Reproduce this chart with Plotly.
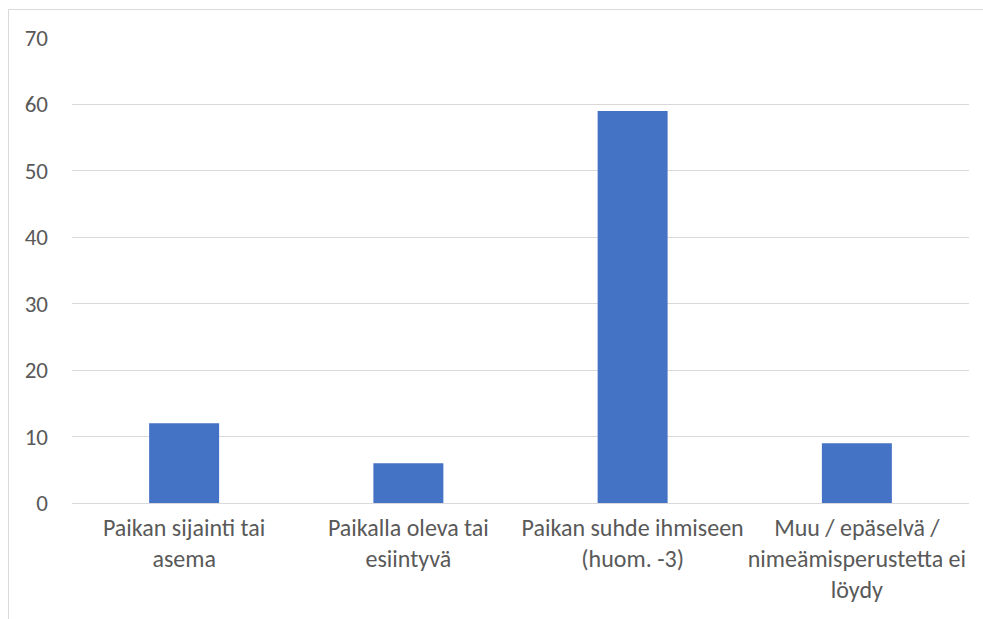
import plotly.graph_objects as go

categories = ["Paikan sijainti tai<br>asema", "Paikalla oleva tai<br>esiintyvä",
              "Paikan suhde ihmiseen<br>(huom. -3)", "Muu / epäselvä /<br>nimeämisperustetta ei<br>löydy"]
values = [12, 6, 59, 9]
y_ticks = [0, 10, 20, 30, 40, 50, 60, 70]

W, H = 983, 619
L, R, T, B = 72, 14, 38, 116
pw, ph = W - L - R, H - T - B

fig = go.Figure(go.Bar(x=categories, y=values, marker=dict(color="#4472C4", line=dict(width=0)),
                       hoverinfo="skip"))

FONT = "Calibri, Carlito, Lato, sans-serif"
fig.update_layout(
    width=W, height=H,
    margin=dict(l=L, r=R, t=T, b=B),
    paper_bgcolor="white", plot_bgcolor="white",
    bargap=0.688,
    showlegend=False,
    font=dict(family=FONT, size=22, color="#595959"),
    xaxis=dict(showgrid=False, showline=False, ticks="", tickangle=0, ticklabelstandoff=8,
               tickfont=dict(size=24, color="#595959")),
    yaxis=dict(range=[0, 70], tickvals=y_ticks, showgrid=True, gridcolor="#D9D9D9", gridwidth=1,
               zeroline=True, zerolinecolor="#D9D9D9", zerolinewidth=1, showline=False,
               ticks="", ticklabelstandoff=23, tickfont=dict(size=23, color="#595959")),
)

x0 = (8.5 - L) / pw
y0 = (H - B - 9.5) / ph
fig.add_shape(type="line", xref="paper", yref="paper", x0=x0, x1=(W + 5 - L) / pw, y0=y0, y1=y0,
              line=dict(color="#D9D9D9", width=1))
fig.add_shape(type="line", xref="paper", yref="paper", x0=x0, x1=x0, y0=y0, y1=-(B + 5) / ph,
              line=dict(color="#D9D9D9", width=1))

fig.write_html("out.html")
